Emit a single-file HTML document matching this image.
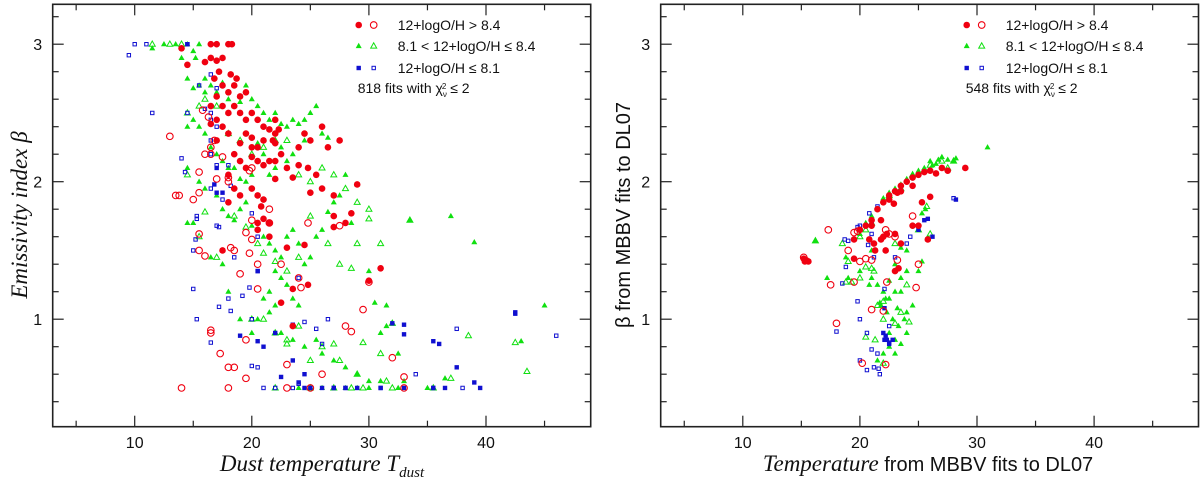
<!DOCTYPE html>
<html><head><meta charset="utf-8"><style>
body{margin:0;background:#fff;}
svg{display:block;}
.t{font-family:"Liberation Sans",sans-serif;font-size:16px;fill:#111;}
.lg{font-family:"Liberation Sans",sans-serif;font-size:14px;fill:#111;}
.ax{font-family:"Liberation Serif",serif;font-style:italic;font-size:23px;fill:#111;}
.axs{font-family:"Liberation Sans",sans-serif;font-size:20px;fill:#111;}
</style></head><body>
<svg id="chart" width="1200" height="479" viewBox="0 0 1200 479" xmlns="http://www.w3.org/2000/svg">
<text class="ax" transform="translate(27,215) rotate(-90)" text-anchor="middle">Emissivity index β</text>
<text class="ax" x="322" y="471" text-anchor="middle">Dust temperature T<tspan font-size="15" dy="6">dust</tspan></text>
<text class="axs" transform="translate(630,215) rotate(-90)" text-anchor="middle">β from MBBV fits to DL07</text>
<text class="axs" x="928" y="471" text-anchor="middle"><tspan class="ax" font-size="23">Temperature</tspan> from MBBV fits to DL07</text>
</svg>
<script>
const xTicks=[10,20,30,40];
const xMinor=[5,15,25,35,45];
const yTicks=[1,2,3];
const yMinor=[0.4,0.6,0.8,1.2,1.4,1.6,1.8,2.2,2.4,2.6,2.8,3.2];

const L_redFilled=[[14,2.97],[14.5,2.85],[16,2.87],[16.5,2.9],[17,2.88],[17.5,2.9],[17.2,2.8],[18,3],[18.3,3],[17,3],[16.5,3],[16.8,2.75],[17.5,2.7],[18,2.65],[18.5,2.7],[19,2.62],[19.5,2.65],[18.2,2.78],[18.7,2.75],[17,2.62],[16.5,2.55],[17.5,2.55],[18,2.5],[18.5,2.55],[19,2.5],[19.5,2.45],[20,2.5],[20.5,2.45],[21,2.4],[21.5,2.38],[22,2.35],[22.3,2.38],[21.8,2.3],[22,2.28],[21,2.3],[20,2.32],[19.5,2.35],[19,2.28],[18,2.35],[17.5,2.4],[17,2.45],[18.5,2.2],[19,2.15],[19.5,2.1],[20,2.18],[20.5,2.15],[21,2.12],[21.5,2.15],[22,2.15],[22.5,2.2],[23,2.1],[20,2.25],[20.5,2.25],[17,2.3],[16.5,2.42],[18,2.05],[18.5,1.95],[19,1.9],[20,1.95],[20.5,1.9],[21,1.87],[22,2.02],[23.5,2.03],[24,2.25],[24.5,2.35],[25,2.3],[25.5,2.05],[26,2.4],[26.5,2.25],[27.5,2.3],[26,1.95],[25,1.92],[24.8,2.1],[27,1.9],[27,1.75],[28.5,1.77],[29,1.98],[28,1.7],[27,1.67],[20.5,1.7],[21,1.73],[21.5,1.7],[20.8,1.82],[18,1.85],[20.5,1.65],[21.5,1.6],[23,1.52],[24.5,1.54],[24.8,1.25],[23.5,1.22],[22.5,1.12],[23.5,0.95],[31,1.37],[30,1.28],[17.5,1.5],[24,2.12],[22,2.45]];
const L_redOpen=[[13,2.33],[13.5,1.9],[13.8,1.9],[15,1.87],[15.5,1.92],[15.5,2.07],[16,2.2],[16.5,2.2],[16.5,2.25],[17,2.02],[16.8,2.3],[16.3,2.47],[15.8,2.52],[17.5,2.18],[18,2.03],[18,2],[19.8,2.08],[20,2.1],[15.5,1.62],[15.5,1.5],[16,1.46],[18.2,1.52],[18.5,1.5],[19.5,1.63],[19.8,1.48],[20,1.58],[20,1.72],[20.5,1.4],[21.5,1.8],[21.5,1.7],[22.5,1.4],[19,1.33],[20.5,1.22],[24,1.3],[24.2,1.23],[24.8,1.7],[27.5,1.68],[16.5,0.9],[16.5,0.92],[17.3,0.75],[18,0.65],[18.5,0.65],[19.5,0.85],[19.5,0.57],[14,0.5],[18,0.5],[23,0.5],[25,0.5],[23,0.67],[26,0.6],[28,0.95],[28.5,0.91],[29.5,1.07],[30,1.27],[32,0.72],[33,0.58],[33,0.5]];
const L_greenFilled=[[11.5,2.97],[12.5,3],[13.5,3],[14.5,3],[15,2.95],[15.5,3],[15.2,2.9],[14,2.9],[14.5,2.75],[15,2.68],[15.5,2.7],[16,2.75],[16,2.65],[16.5,2.7],[17,2.65],[17.5,2.72],[18,2.6],[18.5,2.55],[19,2.58],[19.5,2.7],[20,2.6],[20.5,2.55],[21,2.5],[21.5,2.45],[22,2.5],[22.5,2.42],[23,2.4],[23.5,2.45],[24,2.42],[24.5,2.45],[25,2.5],[25.5,2.55],[26,2.35],[26.5,2.32],[24.5,2.3],[23.5,2.2],[23,2.15],[22.5,2.25],[22,2.1],[21.5,2.05],[21,2.2],[20.5,2.28],[20,2.05],[19.5,2.0],[19,2.02],[18.5,2.1],[18,2.1],[17.5,2.15],[17,2.2],[16.5,2.25],[16,2.35],[15.5,2.4],[15,2.45],[14.5,2.4],[14.5,2.1],[15.5,2.0],[16,1.95],[17,1.9],[17.5,1.8],[18,1.75],[18.5,1.72],[19,1.8],[19.5,1.85],[20,1.68],[20.5,1.65],[21,1.6],[21.5,1.55],[22,1.5],[22.5,1.45],[23,1.6],[23.5,1.65],[24,1.55],[24.5,1.4],[25,1.45],[25.5,1.6],[26,1.65],[26.5,1.78],[27,1.85],[27.5,1.9],[28,2.05],[28.5,1.7],[29,1.98],[22,1.35],[22.5,1.3],[23,1.25],[23.5,1.15],[24,1.1],[21.5,1.2],[21,1.15],[22,1.1],[20.5,1.0],[21.5,1.05],[22.5,0.9],[23.5,0.85],[24.5,0.8],[25.5,0.85],[26,0.75],[27,0.7],[28,0.65],[29,0.6],[30,0.55],[31,0.55],[28,0.5],[29,0.5],[30,0.5],[24,0.5],[26,0.5],[31,0.9],[31.5,1.1],[30,1.35],[30.5,1.12],[32.5,0.75],[31.5,0.95],[33.5,1.72],[37,1.75],[39,1.56],[43,0.84],[45,1.1],[36.5,0.57],[33,0.55],[35,0.5],[32.5,0.5],[19,1.0],[18,1.2],[17.5,1.4],[16.5,1.45],[15,1.7],[14.5,1.7],[20,0.9]];
const L_greenOpen=[[11.5,3],[13,3],[14,3],[15.5,2.55],[14.5,2.5],[16,2.6],[17,2.55],[18,2.35],[19,2.3],[20,2.2],[21,2.25],[22,2.3],[23,2.3],[24,2.05],[25,2.0],[26,2.1],[27,2.05],[28,1.95],[29,1.85],[30,1.8],[30,1.73],[29,1.55],[31,1.55],[27.5,1.4],[28.5,1.37],[26.5,1.55],[25,1.75],[24,1.45],[23,1.35],[22,1.42],[21,1.48],[20.5,1.55],[19.5,1.67],[18.5,1.75],[17,1.45],[16,1.78],[15.5,1.6],[14.5,2.05],[20,1.0],[21,1.0],[22,0.9],[23,0.85],[24,0.95],[25,0.7],[26,0.8],[27,0.82],[27.5,0.7],[29,0.6],[29.5,0.83],[31,0.75],[31.5,0.55],[32,0.97],[37,0.57],[38.5,0.88],[42.5,0.83],[43.5,0.62],[35.5,0.5],[32,0.5],[29.5,0.5],[28.5,0.5],[27,0.5],[25,0.5],[22,0.5],[23,0.82],[33.5,1.72]];
const L_blueFilled=[[17,2.1],[16.8,1.98],[17,1.92],[17.5,1.92],[17.5,1.5],[20.5,1.35],[22,0.9],[23.5,0.96],[19,0.88],[20.5,0.84],[21,0.8],[23.5,0.7],[24.5,0.6],[32,0.97],[33,0.96],[33,0.89],[35.5,0.84],[36,0.82],[37.5,0.65],[39,0.54],[39.5,0.5],[42.5,1.04],[42.5,1.05],[24.5,0.5],[25,0.5],[26,0.5],[27,0.5],[28,0.5],[29,0.5],[31,0.5],[35.5,0.5],[36.5,0.5],[33,0.5],[14.5,3.0],[22.5,0.58],[24,0.54]];
const L_blueOpen=[[9.5,2.92],[10,3],[11,3],[11.5,2.5],[14.5,3],[16.5,2.78],[15.5,2.7],[17,2.68],[14.5,2.5],[16,2.53],[16.5,2.5],[16.5,2.45],[17,2.4],[16.5,2.3],[16.5,2.2],[17,2.12],[14,2.17],[14.3,2.07],[16.5,1.95],[18,2.12],[18.2,1.97],[17.5,1.87],[15.3,1.75],[15.3,1.73],[17,1.68],[17.2,1.67],[20,1.77],[20.5,1.6],[15.2,1.58],[15,1.5],[18.5,1.45],[20.5,1.35],[15,1.22],[19.8,1.23],[19.2,1.17],[18,1.15],[17.2,1.09],[18.2,1.06],[15.3,1.0],[20,1.0],[16.5,0.83],[24.5,0.98],[26.5,1.0],[25.5,0.93],[26,0.82],[24,1.3],[20,0.66],[20.5,0.65],[21,0.5],[22,0.5],[23.5,0.5],[24,0.53],[27,0.5],[28,0.5],[31,0.5],[34,0.6],[35.5,0.5],[38,0.5],[37.5,0.93],[46,0.88]];

const R_redFilled=[[19.5,1.58],[20,1.65],[20.5,1.68],[21,1.72],[21.5,1.8],[22,1.85],[22.5,1.9],[23,1.93],[23.5,1.97],[24,2.0],[24.5,2.03],[25,2.05],[25.5,2.07],[26,2.08],[26.5,2.06],[27,2.1],[27.5,2.08],[29,2.1],[24.5,1.97],[23.5,1.93],[22.5,1.87],[22.9,1.84],[23.2,1.92],[21.8,1.72],[21,1.68],[22,1.6],[22.3,1.62],[21.8,1.58],[21.2,1.55],[20.8,1.58],[22.2,1.5],[21.3,1.5],[19.5,1.44],[23,1.62],[23.5,1.55],[23.3,1.37],[23,1.35],[24.5,1.68],[25.3,1.85],[26,1.89],[25.8,1.58],[15.2,1.44],[15.4,1.43],[15.6,1.42],[15.3,1.42],[25,1.68]];
const R_redOpen=[[17.3,1.65],[19,1.5],[19.5,1.63],[20.5,1.44],[20,1.42],[21,1.43],[21,1.07],[22,1.06],[17.5,1.25],[18,0.97],[20.2,0.68],[22.2,0.67],[19.5,1.27],[22.3,1.27],[23,1.6],[22.2,1.65],[22.5,1.62],[24.5,1.75],[25,1.4],[24.8,1.23],[15.2,1.45],[23.2,1.43],[19.8,1.64]];
const R_greenFilled=[[20,1.62],[20.5,1.7],[21,1.75],[21.5,1.8],[22,1.88],[22.5,1.92],[23,1.95],[23.5,1.98],[24,2.02],[24.5,2.05],[25,2.08],[25.5,2.1],[26,2.15],[26.5,2.13],[27,2.18],[27.5,2.16],[28,2.15],[30.9,2.25],[26.2,2.12],[26.7,2.16],[28.2,2.17],[21,1.3],[21.5,1.25],[22,1.2],[22.5,1.15],[23,1.2],[23.5,1.2],[21.8,1.1],[22.3,1.05],[22.8,1.0],[23.3,0.95],[23.8,1.0],[24,0.9],[22.5,0.9],[23,0.85],[22.5,0.8],[23,0.75],[21.5,0.7],[22,0.75],[23.5,0.82],[24,1.05],[24.5,1.1],[23.5,1.3],[24,1.35],[23,1.4],[24,1.5],[23.5,1.52],[25,1.35],[25.3,1.42],[21,1.5],[20,1.35],[19,1.3],[18.8,1.45],[16.2,1.57],[17.2,1.3],[20.8,1.25],[25.8,1.58],[25.6,1.8],[25.3,1.77],[22.5,1.28],[22.2,1.15],[21.7,1.12],[23.2,1.08]];
const R_greenOpen=[[16.2,1.57],[18.5,1.55],[19,1.42],[18.8,1.27],[19.3,1.27],[20,1.3],[20.5,1.38],[21,1.37],[21.2,1.35],[22,1.13],[21.5,1.1],[22,1.0],[23,0.97],[23.5,1.05],[24.2,0.98],[21.3,0.85],[20.5,0.87],[22,0.68],[24,1.25],[25,1.65],[26,1.62],[25.7,1.82],[21,1.7],[20,1.6],[20.5,1.65],[22.5,1.9],[23.5,1.95],[24.5,2.05],[26,2.12],[27,2.15],[27.5,2.1],[28,2.15],[23,1.55]];
const R_blueFilled=[[21,1.7],[22,0.9],[22.3,0.85],[22.5,0.83],[22.1,0.85],[22.8,0.85],[22.5,0.82],[22.2,0.88],[25,1.65],[25.5,1.72],[25.8,1.73],[26.2,1.6],[28.2,1.87],[22.1,1.08]];
const R_blueOpen=[[19.8,1.67],[20,1.68],[20.8,1.77],[21.5,1.82],[21,1.62],[20.7,1.54],[21.2,1.45],[18.7,1.58],[19,1.57],[18.8,1.38],[18.5,1.26],[19.8,1.13],[20,1.0],[18,0.91],[20.6,0.9],[22.5,0.95],[22.1,1.22],[23,1.45],[24,1.55],[24.3,1.6],[21,0.78],[21.5,0.75],[20,0.7],[20.6,0.63],[21.2,0.65],[21.7,0.6],[21.6,0.64],[28,1.88]];

const legendLabels=["12+logO/H > 8.4","8.1 < 12+logO/H ≤  8.4","12+logO/H ≤  8.1"];
const leftCount="818", rightCount="548";

const NS="http://www.w3.org/2000/svg";
const svg=document.getElementById('chart');
const RED="#f00010",GREEN="#10e010",BLUE="#1010d0";
function mk(tag,attrs,parent){const e=document.createElementNS(NS,tag);for(const k in attrs)e.setAttribute(k,attrs[k]);(parent||svg).appendChild(e);return e;}
function yScale(b){return 181.7-(b-2)*137.5;}

function marker(g,kind,color,filled,x,y){
  let e;
  if(kind==='c'){e=mk('circle',{cx:x,cy:y,r:3.3,fill:filled?color:'none',stroke:color,'stroke-width':filled?0:1.1},g);}
  else if(kind==='t'){e=mk('polygon',{points:`${x},${y-3.2} ${x-3},${y+2.1} ${x+3},${y+2.1}`,fill:filled?color:'none',stroke:color,'stroke-width':filled?0:1},g);}
  else {const s=filled?3.4:3.4;e=mk('rect',{x:x-s/2,y:y-s/2,width:s,height:s,fill:filled?color:'none',stroke:color,'stroke-width':1},g);}
  return e;
}

function panel(name,left,right,x0,series,count){
  const xScale=t=>x0+t*11.71;
  const g=mk('g',{});
  
  
  const top=4.3,bot=426.7;
  const fr=mk('rect',{x:left,y:top,width:right-left,height:bot-top,fill:'none',stroke:'#222','stroke-width':1.6},g);
  
  
  xTicks.forEach(t=>{const x=xScale(t);
    mk('line',{x1:x,x2:x,y1:bot,y2:bot-11,stroke:'#222','stroke-width':1.2},g);
    mk('line',{x1:x,x2:x,y1:top,y2:top+11,stroke:'#222','stroke-width':1.2},g);
    const tx=mk('text',{x:x,y:448,'text-anchor':'middle',class:'t'},g);tx.textContent=t;
    
    });
  xMinor.forEach(t=>{const x=xScale(t);
    mk('line',{x1:x,x2:x,y1:bot,y2:bot-6,stroke:'#222','stroke-width':1.2},g);
    mk('line',{x1:x,x2:x,y1:top,y2:top+6,stroke:'#222','stroke-width':1.2},g);});
  yTicks.forEach(b=>{const y=yScale(b);
    mk('line',{x1:left,x2:left+11,y1:y,y2:y,stroke:'#222','stroke-width':1.2},g);
    mk('line',{x1:right,x2:right-11,y1:y,y2:y,stroke:'#222','stroke-width':1.2},g);
    const tx=mk('text',{x:left-15,y:y+6,'text-anchor':'middle',class:'t'},g);tx.textContent=b;
    
    });
  yMinor.forEach(b=>{const y=yScale(b);
    mk('line',{x1:left,x2:left+6,y1:y,y2:y,stroke:'#222','stroke-width':1.2},g);
    mk('line',{x1:right,x2:right-6,y1:y,y2:y,stroke:'#222','stroke-width':1.2},g);});
  series.forEach(s=>{s.data.forEach(p=>{
    const m=marker(g,s.kind,s.color,s.filled,xScale(p[0]),yScale(p[1]));
    
    });});
  const lx=left+306;
  const kinds=[['c',RED],['t',GREEN],['s',BLUE]];
  const rows=[25,46,68];
  kinds.forEach((k,i)=>{
    const a=marker(g,k[0],k[1],true,lx,rows[i]);
    
    
    const b=marker(g,k[0],k[1],false,lx+15,rows[i]);
    
    
    const tx=mk('text',{x:lx+39,y:rows[i]+5,class:'lg','xml:space':'preserve'},g);
    tx.textContent=legendLabels[i];
    
    
  });
  const ct=mk('text',{x:lx-1,y:93,class:'lg','xml:space':'preserve'},g);
  ct.innerHTML=count+'  fits with χ<tspan font-size="8" dy="4">ν</tspan><tspan font-size="8" dx="-5" dy="-8">2</tspan><tspan dy="4"> ≤ 2</tspan>';
  
  
}

panel('left-panel',52.7,590.7,17.6,[
 {data:L_greenOpen,kind:'t',color:GREEN,filled:false,name:'point-mid-z-open'},
 {data:L_greenFilled,kind:'t',color:GREEN,filled:true,name:'point-mid-z-filled'},
 {data:L_blueOpen,kind:'s',color:BLUE,filled:false,name:'point-low-z-open'},
 {data:L_blueFilled,kind:'s',color:BLUE,filled:true,name:'point-low-z-filled'},
 {data:L_redOpen,kind:'c',color:RED,filled:false,name:'point-high-z-open'},
 {data:L_redFilled,kind:'c',color:RED,filled:true,name:'point-high-z-filled'}],leftCount);
panel('right-panel',660.7,1198.5,625.7,[
 {data:R_greenOpen,kind:'t',color:GREEN,filled:false,name:'point-mid-z-open'},
 {data:R_greenFilled,kind:'t',color:GREEN,filled:true,name:'point-mid-z-filled'},
 {data:R_blueOpen,kind:'s',color:BLUE,filled:false,name:'point-low-z-open'},
 {data:R_blueFilled,kind:'s',color:BLUE,filled:true,name:'point-low-z-filled'},
 {data:R_redOpen,kind:'c',color:RED,filled:false,name:'point-high-z-open'},
 {data:R_redFilled,kind:'c',color:RED,filled:true,name:'point-high-z-filled'}],rightCount);
</script>
</body></html>
